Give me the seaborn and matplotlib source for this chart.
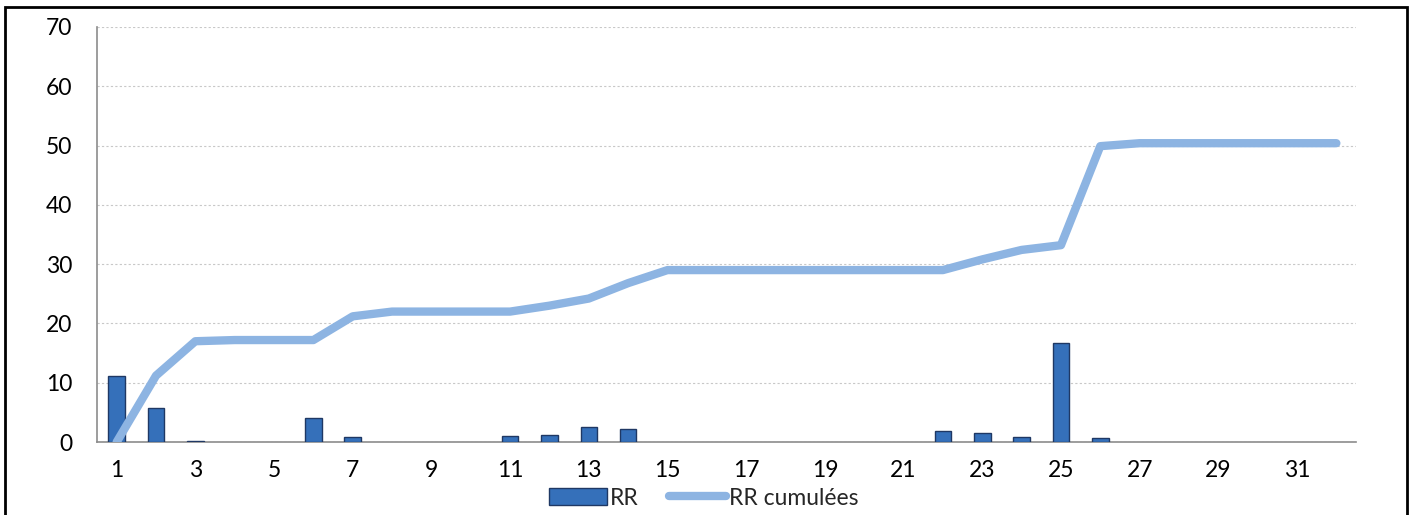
import numpy as np
import pandas as pd
import matplotlib
matplotlib.use("Agg")
import matplotlib.pyplot as plt
from matplotlib.patches import Rectangle
from matplotlib.lines import Line2D
import seaborn as sns

days = list(range(1, 33))
rr = [11.2, 5.8, 0.2, 0, 0, 4.0, 0.8, 0, 0, 0, 1.0, 1.2, 2.5, 2.2, 0, 0,
      0, 0, 0, 0, 0, 1.9, 1.5, 0.8, 16.7, 0.6, 0, 0, 0, 0, 0, 0]
rr_cum = [0, 11.2, 17.0, 17.2, 17.2, 17.2, 21.2, 22.0, 22.0, 22.0, 22.0, 23.0,
          24.2, 26.8, 29.0, 29.0, 29.0, 29.0, 29.0, 29.0, 29.0, 29.0, 30.8,
          32.4, 33.2, 49.9, 50.4, 50.4, 50.4, 50.4, 50.4, 50.4]
xtick_labels = [str(d) for d in range(1, 32, 2)]
yticks = [0, 10, 20, 30, 40, 50, 60, 70]

sns.set_theme(style="white")
plt.rcParams['font.family'] = ['Lato', 'DejaVu Sans']

fig = plt.figure(figsize=(14.14, 5.15), dpi=100)
ax = fig.add_axes([0.0686, 0.1417, 0.8904, 0.8059])

df = pd.DataFrame({"day": days, "RR": rr, "cum": rr_cum})
bars = df[df["RR"] > 0]

sns.barplot(data=bars, x="day", y="RR", native_scale=True, width=0.42,
            color="#3570BA", edgecolor="#1F3864", linewidth=1.0,
            saturation=1, ax=ax, errorbar=None, zorder=3)
sns.lineplot(data=df, x="day", y="cum", color="#8DB4E2", linewidth=6.0,
             ax=ax, zorder=4, solid_capstyle="round", solid_joinstyle="round")

ax.set_xlim(0.5, 32.5)
ax.set_ylim(0, 70)
ax.set_yticks(yticks)
ax.set_xticks(list(range(1, 32, 2)))
ax.set_xticklabels(xtick_labels)
ax.set_xlabel("")
ax.set_ylabel("")
ax.tick_params(axis="both", labelsize=16.5, colors="black", length=0)
ax.tick_params(axis="x", pad=13)
ax.tick_params(axis="y", pad=18)
ax.yaxis.grid(True, linestyle=(0, (2, 2)), color="#C8C8C8", linewidth=0.8)
ax.set_axisbelow(True)
for s in ["top", "right"]:
    ax.spines[s].set_visible(False)
for s in ["left", "bottom"]:
    ax.spines[s].set_color("#8C8C8C")
    ax.spines[s].set_linewidth(1.2)

handles = [Rectangle((0, 0), 1, 1, facecolor="#3570BA", edgecolor="#1F3864"),
           Line2D([0], [0], color="#8DB4E2", linewidth=6, solid_capstyle="round")]
fig.legend(handles, ["RR", "RR cumulées"], loc="center", bbox_to_anchor=(0.498, 0.033),
           ncol=2, frameon=False, fontsize=16.5, handlelength=2.5, handleheight=0.8,
           columnspacing=1.3, handletextpad=0.15, borderpad=0)

fig.patches.append(Rectangle((0.0035, -0.02), 0.9915, 1.006, transform=fig.transFigure,
                             fill=False, edgecolor="black", linewidth=2))

fig.savefig("out.png", dpi=100)
